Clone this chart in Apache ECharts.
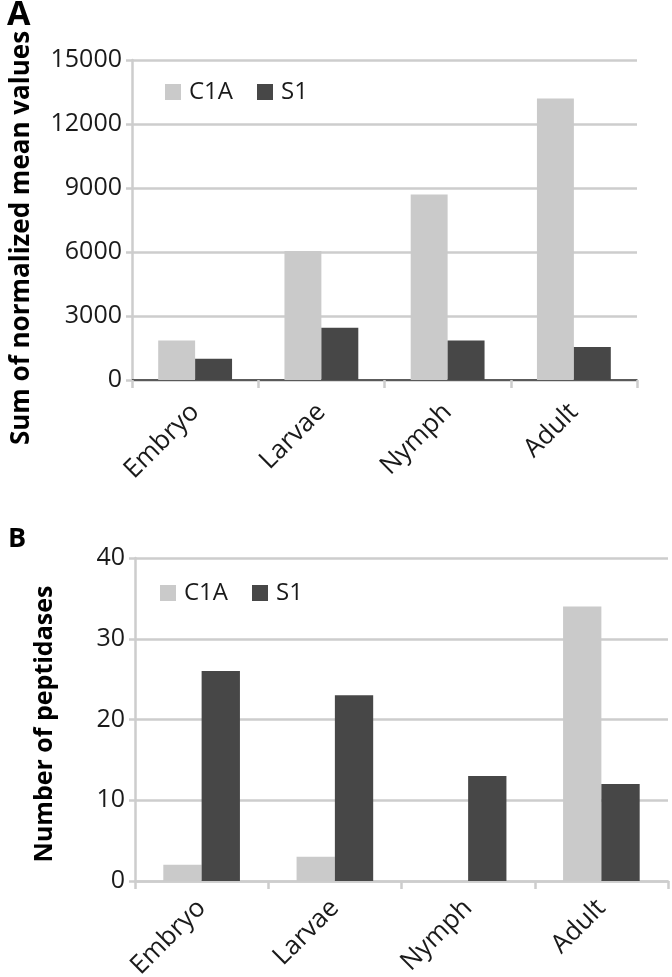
<!DOCTYPE html>
<html>
<head>
<meta charset="utf-8">
<script src="https://cdn.jsdelivr.net/npm/echarts@6/dist/echarts.min.js"></script>
<style>
html,body{margin:0;padding:0;background:#fff;}
#c{width:672px;height:977px;}
</style>
</head>
<body>
<div id="c"></div>
<script>
const categories = ['Embryo', 'Larvae', 'Nymph', 'Adult'];
const seriesNames = ['C1A', 'S1'];
// Panel A: sum of normalized mean values
const sumC1A = [1850, 6050, 8700, 13200];
const sumS1 = [1000, 2450, 1850, 1550];
// Panel B: number of peptidases
const countC1A = [2, 3, 0, 34];
const countS1 = [26, 23, 13, 12];
const ticksA = [0, 3000, 6000, 9000, 12000, 15000];
const ticksB = [0, 10, 20, 30, 40];

const FONT = 'Open Sans';
const colC1A = '#cacaca';
const colS1 = '#474747';
const gridCol = '#cdcdcd';

const chart = echarts.init(document.getElementById('c'), null, {renderer: 'canvas'});

function yAxis(idx, ticks) {
  return {
    type: 'value', gridIndex: idx,
    min: ticks[0], max: ticks[ticks.length - 1], interval: ticks[1] - ticks[0],
    axisLine: {show: true, lineStyle: {color: gridCol, width: 2.5}},
    axisTick: {show: true, length: 6, lineStyle: {color: gridCol, width: 2.5}},
    splitLine: {show: true, lineStyle: {color: gridCol, width: 2.5}},
    axisLabel: {fontFamily: FONT, fontSize: 25, color: '#1a1a1a', margin: 10,
                formatter: function (v) { return String(v); }}
  };
}
function xAxis(idx, lineColor, lineWidth, margin) {
  return {
    type: 'category', gridIndex: idx, data: categories,
    axisLine: {show: true, lineStyle: {color: lineColor, width: lineWidth}},
    axisTick: {show: true, alignWithLabel: false, length: 8, lineStyle: {color: gridCol, width: 2.5}},
    axisLabel: {fontFamily: FONT, fontSize: 26, color: '#1a1a1a', rotate: 45, margin: margin,
                interval: 0}
  };
}
function bar(name, data, xi, yi, color, gap) {
  return {
    name: name, type: 'bar', xAxisIndex: xi, yAxisIndex: yi, data: data,
    barGap: '0%', barCategoryGap: gap,
    itemStyle: {color: color},
    emphasis: {disabled: true}
  };
}
const legendStyle = {
  icon: 'rect', itemWidth: 16, itemHeight: 16, itemGap: 24,
  textStyle: {fontFamily: FONT, fontSize: 24, color: '#1a1a1a', padding: [0, 0, 0, 3]},
  data: seriesNames, selectedMode: false
};

chart.setOption({
  animation: false,
  backgroundColor: '#fff',
  grid: [
    {left: 132, right: 35, top: 60, bottom: 597, containLabel: false, outerBoundsMode: 'none'},
    {left: 135, right: 4, top: 558, bottom: 96, containLabel: false, outerBoundsMode: 'none'}
  ],
  legend: [
    Object.assign({}, legendStyle, {left: 160, top: 75}),
    Object.assign({}, legendStyle, {left: 155, top: 576})
  ],
  xAxis: [xAxis(0, '#333333', 1.5, 28), xAxis(1, gridCol, 2.5, 23)],
  yAxis: [yAxis(0, ticksA), yAxis(1, ticksB)],
  series: [
    bar('C1A', sumC1A, 0, 0, colC1A, '41.5%'),
    bar('S1', sumS1, 0, 0, colS1, '41.5%'),
    bar('C1A', countC1A, 1, 1, colC1A, '42.5%'),
    bar('S1', countS1, 1, 1, colS1, '42.5%')
  ],
  graphic: [
    {type: 'text', left: 7, top: -2, style: {text: 'A', font: 'bold 34px "' + FONT + '"', fill: '#000'}},
    {type: 'text', left: 8, top: 526, style: {text: 'B', font: 'bold 27px "' + FONT + '"', fill: '#000'}},
    {type: 'text', x: 22, y: 238, rotation: Math.PI / 2,
     style: {text: 'Sum of normalized mean values', font: 'bold 26px "' + FONT + '"', fill: '#000', align: 'center', verticalAlign: 'middle'}},
    {type: 'text', x: 45, y: 724, rotation: Math.PI / 2,
     style: {text: 'Number of peptidases', font: 'bold 25px "' + FONT + '"', fill: '#000', align: 'center', verticalAlign: 'middle'}}
  ]
});
</script>
</body>
</html>
